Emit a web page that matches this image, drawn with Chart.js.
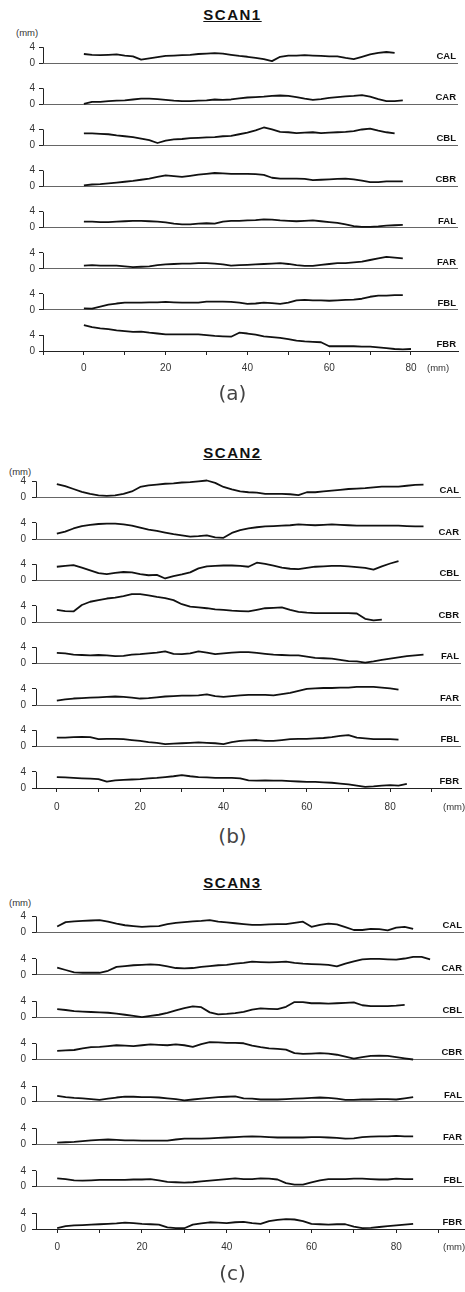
<!DOCTYPE html>
<html>
<head>
<meta charset="utf-8">
<script src="https://cdn.jsdelivr.net/npm/chart.js@4.4.1/dist/chart.umd.min.js"></script>
<style>
  body { margin: 0; background: #fff; width: 465px; height: 1292px; position: relative; overflow: hidden;
         font-family: "Liberation Sans", Arial, sans-serif; color: #111; }
  canvas { position: absolute; left: 0; }
  .title { position: absolute; left: 0; width: 465px; text-align: center; font-weight: bold; font-size: 15px;
           letter-spacing: 1.5px; line-height: 16px; text-decoration: underline; }
  .unit { position: absolute; font-size: 9.5px; line-height: 10px; color: #333; }
  .cap { position: absolute; left: 0; width: 465px; text-align: center; font-family: "DejaVu Sans", sans-serif;
         font-size: 20px; line-height: 22px; color: #444; }
</style>
</head>
<body>

<div class="title" style="top:7px">SCAN1</div>
<div class="unit" style="left:16px;top:28px">(mm)</div>
<canvas id="scan1" width="465" height="365" style="top:12px"></canvas>
<div class="unit" style="left:427px;top:363px">(mm)</div>
<div class="cap" style="top:382px">(a)</div>

<div class="title" style="top:445px">SCAN2</div>
<div class="unit" style="left:9px;top:467px">(mm)</div>
<canvas id="scan2" width="465" height="370" style="top:444px"></canvas>
<div class="unit" style="left:443px;top:802px">(mm)</div>
<div class="cap" style="top:825px">(b)</div>

<div class="title" style="top:875px">SCAN3</div>
<div class="unit" style="left:9px;top:898px">(mm)</div>
<canvas id="scan3" width="465" height="377" style="top:878px"></canvas>
<div class="unit" style="left:443px;top:1242px">(mm)</div>
<div class="cap" style="top:1262px">(c)</div>

<script>
// distance along the scan (mm), one reading every 2 mm
const distance = [0, 2, 4, 6, 8, 10, 12, 14, 16, 18, 20, 22, 24, 26, 28, 30, 32, 34, 36, 38, 40,
  42, 44, 46, 48, 50, 52, 54, 56, 58, 60, 62, 64, 66, 68, 70, 72, 74, 76, 78, 80, 82, 84, 86, 88, 90];

const traceNames = ['CAL', 'CAR', 'CBL', 'CBR', 'FAL', 'FAR', 'FBL', 'FBR'];
const xTickLabels = [0, 20, 40, 60, 80];
const yTickLabels = [0, 4];

// SCAN1 profiles (mm)
const scan1CAL = [2.3, 2.1, 2.0, 2.1, 2.2, 1.9, 1.7, 0.9, 1.2, 1.5, 1.8, 1.9, 2.0, 2.1, 2.3, 2.4, 2.5, 2.4, 2.1, 1.8,
  1.6, 1.3, 1.0, 0.5, 1.6, 1.9, 1.9, 2.0, 1.9, 1.8, 1.7, 1.7, 1.3, 1.0, 1.6, 2.2, 2.6, 2.8, 2.6];
const scan1CAR = [0.1, 0.6, 0.6, 0.8, 0.9, 1.0, 1.2, 1.4, 1.4, 1.3, 1.1, 0.9, 0.8, 0.8, 0.9, 1.0, 1.2, 1.1, 1.2, 1.5,
  1.7, 1.8, 1.9, 2.1, 2.2, 2.1, 1.8, 1.4, 1.1, 1.3, 1.6, 1.8, 2.0, 2.1, 2.3, 1.9, 1.3, 0.8, 0.8, 1.0];
const scan1CBL = [3.0, 3.0, 2.9, 2.8, 2.5, 2.3, 2.1, 1.7, 1.3, 0.6, 1.2, 1.5, 1.6, 1.8, 1.9, 2.0, 2.1, 2.3, 2.4, 2.8,
  3.2, 3.8, 4.5, 4.0, 3.4, 3.3, 3.1, 3.2, 3.3, 3.1, 3.2, 3.3, 3.4, 3.6, 4.0, 4.2, 3.7, 3.3, 3.0];
const scan1CBR = [0.3, 0.5, 0.6, 0.8, 1.0, 1.2, 1.4, 1.7, 2.0, 2.4, 2.8, 2.6, 2.4, 2.7, 3.0, 3.2, 3.4, 3.3, 3.2, 3.2,
  3.2, 3.1, 2.9, 2.2, 2.0, 2.0, 2.0, 1.9, 1.6, 1.7, 1.8, 1.9, 2.0, 1.8, 1.5, 1.1, 1.1, 1.3, 1.3, 1.3];
const scan1FAL = [1.5, 1.5, 1.4, 1.4, 1.5, 1.6, 1.7, 1.7, 1.6, 1.5, 1.3, 1.0, 0.8, 0.8, 1.0, 1.1, 1.0, 1.5, 1.7, 1.7,
  1.8, 1.9, 2.1, 2.0, 1.8, 1.7, 1.6, 1.7, 1.8, 1.6, 1.4, 1.2, 0.8, 0.4, 0.2, 0.2, 0.3, 0.5, 0.6, 0.7];
const scan1FAR = [0.8, 0.9, 0.8, 0.8, 0.8, 0.6, 0.4, 0.5, 0.6, 0.9, 1.1, 1.2, 1.3, 1.3, 1.4, 1.4, 1.3, 1.1, 0.8, 0.9,
  1.0, 1.1, 1.2, 1.3, 1.4, 1.2, 0.9, 0.7, 0.7, 1.0, 1.2, 1.4, 1.4, 1.6, 1.8, 2.2, 2.6, 3.0, 2.8, 2.6];
const scan1FBL = [0.4, 0.3, 0.8, 1.3, 1.6, 1.8, 1.8, 1.8, 1.9, 1.9, 2.0, 1.9, 1.8, 1.8, 1.8, 2.1, 2.1, 2.1, 2.0, 1.8,
  1.5, 1.6, 1.8, 1.7, 1.5, 1.8, 2.4, 2.5, 2.4, 2.4, 2.3, 2.4, 2.5, 2.6, 2.8, 3.3, 3.6, 3.6, 3.7, 3.7];
const scan1FBR = [6.5, 6.0, 5.7, 5.5, 5.2, 5.0, 4.8, 4.9, 4.6, 4.4, 4.2, 4.2, 4.2, 4.2, 4.2, 4.0, 3.8, 3.7, 3.6, 4.6,
  4.4, 4.1, 3.7, 3.5, 3.3, 3.0, 2.6, 2.4, 2.3, 2.2, 1.2, 1.2, 1.2, 1.2, 1.1, 1.1, 0.9, 0.7, 0.5, 0.4, 0.5];

// SCAN2 profiles (mm)
const scan2CAL = [3.3, 2.8, 2.1, 1.4, 0.9, 0.5, 0.4, 0.5, 0.9, 1.5, 2.6, 3.0, 3.2, 3.4, 3.5, 3.7, 3.8, 4.0, 4.2, 3.6,
  2.6, 2.0, 1.5, 1.3, 1.2, 0.9, 0.9, 0.9, 0.8, 0.6, 1.3, 1.3, 1.5, 1.7, 1.9, 2.1, 2.2, 2.3, 2.5, 2.7, 2.7, 2.7, 2.9, 3.1, 3.2];
const scan2CAR = [1.3, 1.8, 2.6, 3.2, 3.5, 3.7, 3.8, 3.8, 3.6, 3.3, 2.8, 2.3, 2.0, 1.6, 1.2, 0.9, 0.6, 0.7, 0.9, 0.4,
  0.3, 1.5, 2.2, 2.6, 2.9, 3.1, 3.2, 3.3, 3.4, 3.6, 3.5, 3.4, 3.5, 3.6, 3.5, 3.4, 3.3, 3.3, 3.3, 3.3, 3.3, 3.3, 3.2, 3.1, 3.1];
const scan2CBL = [3.4, 3.6, 3.8, 3.2, 2.5, 1.8, 1.6, 1.9, 2.1, 2.0, 1.6, 1.3, 1.4, 0.5, 1.1, 1.5, 2.0, 3.0, 3.5, 3.6,
  3.7, 3.7, 3.6, 3.4, 4.4, 4.1, 3.7, 3.2, 2.9, 2.8, 3.1, 3.4, 3.5, 3.6, 3.6, 3.5, 3.3, 3.1, 2.7, 3.5, 4.2, 4.8];
const scan2CBR = [3.0, 2.7, 2.6, 4.2, 5.0, 5.4, 5.8, 6.0, 6.4, 6.9, 6.9, 6.6, 6.2, 5.9, 5.4, 4.4, 3.8, 3.6, 3.4, 3.1,
  3.0, 2.8, 2.7, 2.6, 3.0, 3.4, 3.5, 3.6, 3.0, 2.5, 2.3, 2.2, 2.2, 2.2, 2.2, 2.2, 2.1, 0.8, 0.4, 0.6];
const scan2FAL = [2.6, 2.5, 2.2, 2.1, 2.0, 2.1, 2.0, 1.8, 1.9, 2.2, 2.3, 2.5, 2.7, 3.0, 2.4, 2.3, 2.5, 3.0, 2.7, 2.3,
  2.5, 2.7, 2.8, 2.8, 2.6, 2.4, 2.2, 2.1, 2.0, 2.0, 1.7, 1.4, 1.3, 1.2, 0.9, 0.6, 0.5, 0.2, 0.5, 0.9, 1.2, 1.5, 1.8, 2.0, 2.2];
const scan2FAR = [1.1, 1.4, 1.6, 1.7, 1.8, 1.9, 2.0, 2.1, 2.0, 1.8, 1.6, 1.7, 1.9, 2.1, 2.2, 2.3, 2.3, 2.4, 2.6, 2.2,
  2.0, 2.2, 2.4, 2.5, 2.5, 2.5, 2.4, 2.7, 3.0, 3.5, 4.0, 4.1, 4.2, 4.2, 4.3, 4.3, 4.5, 4.5, 4.5, 4.3, 4.1, 3.8];
const scan2FBL = [2.2, 2.2, 2.3, 2.4, 2.3, 1.8, 1.9, 1.9, 1.8, 1.6, 1.4, 1.1, 0.9, 0.6, 0.7, 0.8, 0.9, 1.0, 0.9, 0.8,
  0.6, 1.1, 1.4, 1.5, 1.6, 1.4, 1.4, 1.6, 1.8, 1.9, 1.9, 2.0, 2.1, 2.3, 2.6, 2.8, 2.2, 2.0, 1.8, 1.8, 1.8, 1.7];
const scan2FBR = [2.7, 2.6, 2.5, 2.4, 2.3, 2.2, 1.6, 1.9, 2.0, 2.1, 2.2, 2.4, 2.5, 2.7, 2.9, 3.2, 2.9, 2.7, 2.6, 2.5,
  2.5, 2.5, 2.4, 1.9, 1.8, 1.9, 1.8, 1.8, 1.7, 1.6, 1.5, 1.5, 1.4, 1.3, 1.1, 0.9, 0.6, 0.3, 0.4, 0.6, 0.7, 0.6, 1.0];

// SCAN3 profiles (mm)
const scan3CAL = [1.5, 2.6, 2.8, 2.9, 3.0, 3.1, 2.7, 2.2, 1.8, 1.6, 1.4, 1.5, 1.6, 2.1, 2.4, 2.6, 2.8, 2.9, 3.1, 2.7,
  2.5, 2.3, 2.1, 1.9, 1.9, 2.0, 2.1, 2.1, 2.4, 2.7, 1.4, 1.9, 2.2, 2.0, 1.3, 0.6, 0.6, 0.9, 0.8, 0.5, 1.2, 1.4, 0.9];
const scan3CAR = [1.8, 1.2, 0.6, 0.5, 0.5, 0.5, 1.0, 2.0, 2.2, 2.4, 2.5, 2.6, 2.5, 2.1, 1.7, 1.6, 1.7, 2.0, 2.2, 2.4,
  2.5, 2.8, 3.0, 3.3, 3.2, 3.1, 3.2, 3.3, 3.0, 2.8, 2.7, 2.6, 2.5, 2.1, 2.8, 3.4, 3.9, 4.0, 4.0, 3.9, 3.8, 4.1, 4.5, 4.5, 3.9];
const scan3CBL = [2.0, 1.8, 1.5, 1.4, 1.3, 1.2, 1.1, 0.9, 0.6, 0.3, 0.0, 0.3, 0.6, 1.1, 1.7, 2.3, 2.7, 2.5, 1.2, 0.7,
  0.8, 1.0, 1.3, 1.9, 2.2, 2.1, 2.0, 2.6, 3.8, 3.8, 3.5, 3.5, 3.4, 3.5, 3.6, 3.7, 3.0, 2.8, 2.8, 2.8, 2.9, 3.1];
const scan3CBR = [2.2, 2.3, 2.4, 2.8, 3.1, 3.2, 3.4, 3.6, 3.5, 3.4, 3.6, 3.8, 3.7, 3.6, 3.8, 3.6, 3.2, 3.9, 4.4, 4.3,
  4.2, 4.2, 4.1, 3.5, 3.1, 2.8, 2.7, 2.5, 1.6, 1.4, 1.5, 1.6, 1.5, 1.2, 0.7, 0.2, 0.6, 0.9, 1.0, 0.9, 0.6, 0.3, 0.0];
const scan3FAL = [1.5, 1.2, 1.0, 0.9, 0.7, 0.5, 0.8, 1.1, 1.3, 1.3, 1.2, 1.2, 1.1, 0.9, 0.7, 0.4, 0.6, 0.8, 1.0, 1.2,
  1.3, 1.4, 0.9, 0.8, 0.6, 0.6, 0.6, 0.7, 0.8, 0.9, 1.0, 1.1, 1.0, 0.8, 0.5, 0.5, 0.6, 0.6, 0.7, 0.7, 0.6, 0.9, 1.2];
const scan3FAR = [0.4, 0.5, 0.6, 0.8, 1.0, 1.1, 1.2, 1.1, 1.0, 1.0, 0.9, 0.9, 0.9, 0.9, 1.2, 1.4, 1.4, 1.4, 1.5, 1.6,
  1.7, 1.8, 1.9, 2.0, 1.9, 1.8, 1.7, 1.7, 1.7, 1.7, 1.8, 1.8, 1.7, 1.6, 1.4, 1.5, 1.8, 1.9, 2.0, 2.0, 2.1, 2.0, 2.0];
const scan3FBL = [2.1, 1.9, 1.6, 1.5, 1.6, 1.7, 1.7, 1.7, 1.7, 1.8, 1.8, 1.9, 1.6, 1.2, 1.1, 1.0, 1.1, 1.3, 1.5, 1.7,
  1.9, 2.1, 1.9, 1.9, 2.1, 2.0, 1.8, 0.9, 0.5, 0.5, 1.1, 1.6, 1.9, 1.9, 1.9, 2.0, 2.0, 1.9, 1.8, 1.8, 2.0, 1.9, 1.9];
const scan3FBR = [0.2, 0.7, 0.9, 1.0, 1.1, 1.2, 1.3, 1.4, 1.6, 1.5, 1.3, 1.2, 1.1, 0.4, 0.2, 0.2, 1.1, 1.4, 1.7, 1.6,
  1.5, 1.7, 1.8, 1.5, 1.3, 2.0, 2.3, 2.5, 2.4, 2.0, 1.3, 1.2, 1.1, 1.2, 1.2, 0.6, 0.2, 0.3, 0.5, 0.7, 0.9, 1.1, 1.3];

// Draw the short y axis bracket (0..top tick) and the trace name at the right end
const bracketPlugin = {
  id: 'bracket',
  afterDraw(chart) {
    const ctx = chart.ctx;
    const area = chart.chartArea;
    ctx.save();
    traceNames.forEach((name, i) => {
      const s = chart.scales['y' + i];
      if (!s) return;
      const top = s.ticks[s.ticks.length - 1].value;
      const x = Math.round(area.left) + 0.5;
      ctx.strokeStyle = '#222';
      ctx.lineWidth = 1;
      ctx.beginPath();
      ctx.moveTo(x, s.getPixelForValue(0));
      ctx.lineTo(x, s.getPixelForValue(top));
      ctx.stroke();

      ctx.fillStyle = '#111';
      ctx.font = 'bold 9.5px "Liberation Sans", Arial, sans-serif';
      ctx.textAlign = 'right';
      ctx.textBaseline = 'bottom';
      ctx.fillText(name, area.right - 2, s.getPixelForValue(0) - 2);
    });
    ctx.restore();
  }
};

function buildScan(canvasId, series, opts) {
  const scales = {
    x: {
      type: 'linear',
      min: opts.xMin,
      max: opts.xMax,
      afterBuildTicks: s => {
        s.ticks = s.ticks.filter(t => t.value % 10 === 0);
      },
      afterFit: s => { s.height = 26; },
      border: { display: true, color: '#222', width: 1 },
      grid: { drawOnChartArea: false, drawTicks: true, tickLength: 4, tickColor: '#222' },
      ticks: {
        stepSize: 10,
        autoSkip: false,
        maxRotation: 0,
        padding: opts.xPad,
        color: '#333',
        font: { size: 10, family: '"Liberation Sans", Arial, sans-serif' },
        callback: v => xTickLabels.includes(v) ? String(v) : ''
      }
    }
  };

  traceNames.forEach((name, i) => {
    const top = opts.bracketTops[i];
    scales['y' + i] = {
      type: 'linear',
      position: 'left',
      stack: 'traces',
      stackWeight: 1,
      weight: traceNames.length - i,
      min: 0,
      max: opts.yMax,
      afterBuildTicks: s => {
        const vals = top > 4 ? [0, 2, 4, 6] : [0, 2, 4];
        s.ticks = vals.map(v => ({ value: v }));
      },
      afterFit: s => { s.width = opts.axisWidth; },
      border: { display: false },
      grid: {
        drawOnChartArea: true,
        drawTicks: true,
        tickLength: 4,
        lineWidth: 1,
        color: c => (c.tick && c.tick.value === 0) ? '#666' : 'rgba(0,0,0,0)',
        tickColor: '#222'
      },
      ticks: {
        padding: opts.yPad,
        color: '#333',
        font: { size: 10, family: '"Liberation Sans", Arial, sans-serif' },
        callback: v => yTickLabels.includes(v) ? String(v) : ''
      }
    };
  });

  const datasets = series.map((values, i) => ({
    label: traceNames[i],
    yAxisID: 'y' + i,
    data: values.map((v, k) => ({ x: distance[k], y: v })),
    borderColor: '#111',
    borderWidth: 1.8,
    borderJoinStyle: 'round',
    pointRadius: 0,
    tension: 0,
    fill: false,
    clip: false
  }));

  return new Chart(document.getElementById(canvasId), {
    type: 'line',
    data: { datasets },
    options: {
      responsive: false,
      animation: false,
      events: [],
      layout: { padding: { top: 8, right: opts.rightPad, left: 0, bottom: 0 } },
      plugins: { legend: { display: false }, tooltip: { enabled: false } },
      scales
    },
    plugins: [bracketPlugin]
  });
}

buildScan('scan1',
  [scan1CAL, scan1CAR, scan1CBL, scan1CBR, scan1FAL, scan1FAR, scan1FBL, scan1FBR],
  { xMin: -10, xMax: 91.5, yMax: 10.35, axisWidth: 43, yPad: 4, xPad: 7, rightPad: 7,
    bracketTops: [4, 4, 4, 4, 4, 4, 4, 6] });

buildScan('scan2',
  [scan2CAL, scan2CAR, scan2CBL, scan2CBR, scan2FAL, scan2FAR, scan2FBL, scan2FBR],
  { xMin: -5, xMax: 97, yMax: 10.25, axisWidth: 36, yPad: 6, xPad: 9, rightPad: 4,
    bracketTops: [4, 4, 6, 6, 4, 4, 4, 4] });

buildScan('scan3',
  [scan3CAL, scan3CAR, scan3CBL, scan3CBR, scan3FAL, scan3FAR, scan3FBL, scan3FBR],
  { xMin: -5, xMax: 96, yMax: 10.7, axisWidth: 36, yPad: 6, xPad: 8, rightPad: 1,
    bracketTops: [4, 4, 4, 4, 4, 4, 4, 4] });
</script>
</body>
</html>
